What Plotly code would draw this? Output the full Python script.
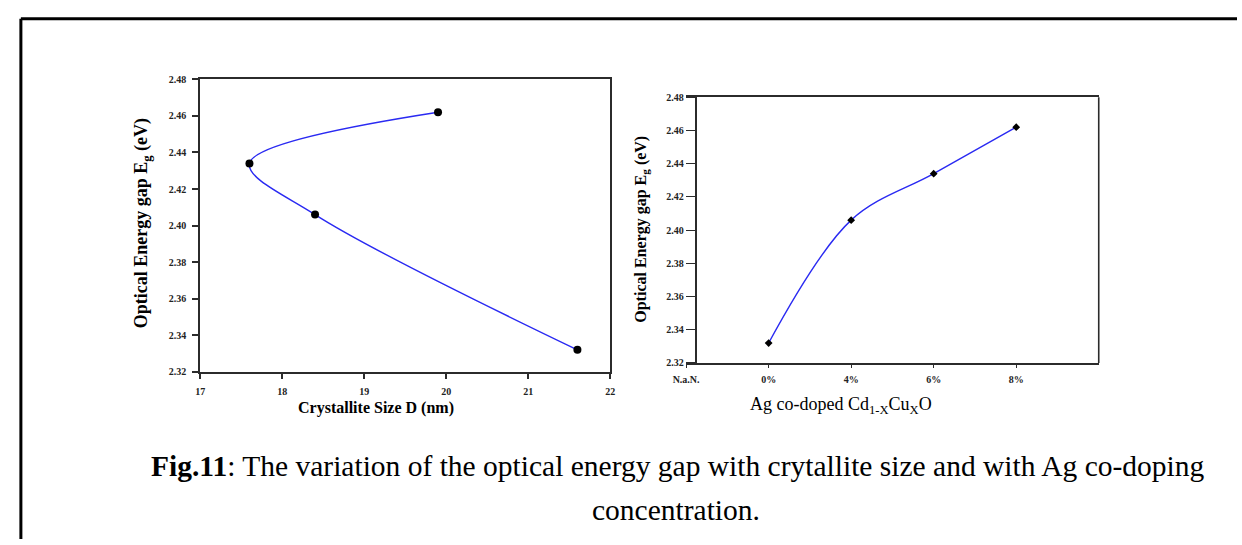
import plotly.graph_objects as go

# Optical energy gap (eV) for the four samples
energy_gap = [2.332, 2.406, 2.434, 2.462]
# Crystallite size D (nm) of the same samples
crystallite_size = [21.6, 18.4, 17.6, 19.9]
# Ag co-doping level of each sample
doping_level = ["0%", "4%", "6%", "8%"]
# Category labels along the doping axis
doping_ticks = ["N.a.N.", "0%", "4%", "6%", "8%"]
# Energy-gap axis ticks
gap_ticks = [2.32, 2.34, 2.36, 2.38, 2.40, 2.42, 2.44, 2.46, 2.48]
size_ticks = [17, 18, 19, 20, 21, 22]

W, H = 1242, 545


def px_x(x):
    return x / W


def px_y(y):
    return 1 - y / H


BLUE = "#2a2af2"
AXIS = "#2b2b2b"
SERIF = "Liberation Serif, Times New Roman, serif"

fig = go.Figure()

# Left panel: energy gap versus crystallite size
fig.add_trace(go.Scatter(
    x=crystallite_size, y=energy_gap, xaxis="x", yaxis="y",
    mode="lines+markers",
    line=dict(color=BLUE, width=1.4, shape="spline", smoothing=1.0),
    marker=dict(color="black", size=8, symbol="circle"),
    showlegend=False, hoverinfo="x+y",
))

# Right panel: energy gap versus doping level
doping_pos = [doping_ticks.index(d) for d in doping_level]
fig.add_trace(go.Scatter(
    x=doping_pos, y=energy_gap, xaxis="x2", yaxis="y2",
    mode="lines+markers",
    line=dict(color=BLUE, width=1.4, shape="spline", smoothing=1.0),
    marker=dict(color="black", size=6, symbol="diamond"),
    showlegend=False, hoverinfo="y",
))

tick_font = dict(family=SERIF, size=10, color="#222", weight="bold")


def label(text, x, y, size, angle=0, bold=True):
    return dict(xref="paper", yref="paper", x=px_x(x), y=px_y(y),
                xanchor="center", yanchor="middle", showarrow=False,
                textangle=angle,
                text=f"<b>{text}</b>" if bold else text,
                font=dict(family=SERIF, size=size, color="black"))


fig.update_layout(
    width=W, height=H,
    margin=dict(l=0, r=0, t=0, b=0),
    paper_bgcolor="white", plot_bgcolor="white",
    xaxis=dict(
        domain=[px_x(190), px_x(606)], range=[17, 22], anchor="y",
        tickvals=size_ticks, ticks="outside", ticklen=5, tickwidth=1.5,
        tickcolor=AXIS, showline=True, linecolor=AXIS, linewidth=2,
        mirror=True, showgrid=False, zeroline=False, tickfont=tick_font,
        ticklabelstandoff=4,
    ),
    yaxis=dict(
        domain=[px_y(374), px_y(75)], range=[2.32, 2.48], anchor="x",
        tickvals=gap_ticks, tickformat=".2f", ticks="outside", ticklen=6,
        tickwidth=1.5, tickcolor=AXIS, showline=True, linecolor=AXIS,
        linewidth=2, mirror=True, showgrid=False, zeroline=False,
        tickfont=tick_font, ticklabelstandoff=4,
    ),
    xaxis2=dict(
        domain=[px_x(683), px_x(1101.7)], range=[0, 5], anchor="y2",
        tickvals=list(range(len(doping_ticks))), ticktext=doping_ticks,
        ticks="outside", ticklen=3, tickwidth=1.2, tickcolor=AXIS,
        showline=True, linecolor=AXIS, linewidth=1.6, mirror=True,
        showgrid=False, zeroline=False, tickfont=tick_font,
        ticklabelstandoff=3,
    ),
    yaxis2=dict(
        domain=[px_y(365), px_y(93.3)], range=[2.32, 2.48],
        anchor="free", position=px_x(692.7),
        tickvals=gap_ticks, tickformat=".2f", ticks="outside", ticklen=9,
        tickwidth=1.2, tickcolor=AXIS, showline=True, linecolor=AXIS,
        linewidth=1.6, showgrid=False, zeroline=False, tickfont=tick_font,
    ),
    shapes=[
        # right edge of the doping panel
        dict(type="line", xref="paper", yref="paper",
             x0=px_x(1101.7), x1=px_x(1101.7), y0=px_y(365), y1=px_y(93.3),
             line=dict(color=AXIS, width=1.6)),
        # page frame (left and top rules)
        dict(type="line", xref="paper", yref="paper",
             x0=px_x(8), x1=px_x(8), y0=0, y1=px_y(13),
             line=dict(color="black", width=3)),
        dict(type="line", xref="paper", yref="paper",
             x0=px_x(8), x1=1, y0=px_y(13), y1=px_y(13),
             line=dict(color="black", width=3)),
    ],
    annotations=[
        # axis titles
        label("Optical Energy gap E<sub>g</sub> (eV)", 131, 222, 18, -90),
        label("Crystallite Size D (nm)", 368, 411, 16),
        label("Optical Energy gap E<sub>g</sub> (eV)", 638, 228, 16, -90),
        label("Ag co-doped Cd<sub>1-X</sub>Cu<sub>X</sub>O", 840, 409, 18,
              bold=False),
        # figure caption
        dict(xref="paper", yref="paper", x=px_x(138), y=px_y(470),
             xanchor="left", yanchor="middle", showarrow=False,
             text="<b>Fig.11</b>: The variation of the optical energy gap "
                  "with crytallite size and with Ag co-doping",
             font=dict(family=SERIF, size=29.5, color="black")),
        dict(xref="paper", yref="paper", x=px_x(673), y=px_y(515),
             xanchor="center", yanchor="middle", showarrow=False,
             text="concentration.",
             font=dict(family=SERIF, size=29.5, color="black")),
    ],
)

fig.write_html("out.html")
